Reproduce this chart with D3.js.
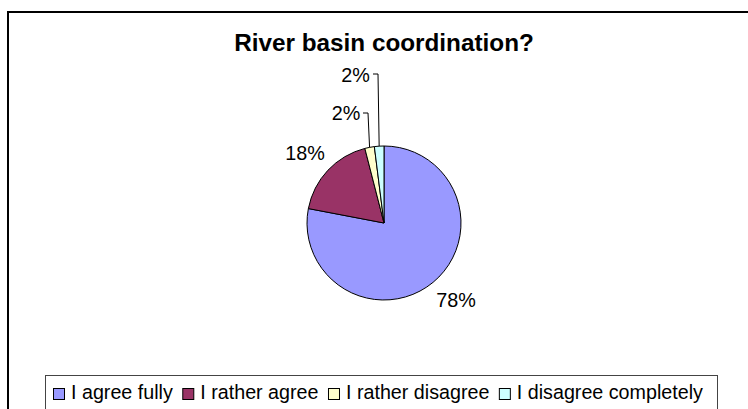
<!DOCTYPE html>
<html>
<head>
<meta charset="utf-8">
<script src="https://cdn.jsdelivr.net/npm/d3@7"></script>
<style>
  html, body { margin: 0; padding: 0; background: #fff; }
  svg { display: block; font-family: "Liberation Sans", Arial, sans-serif; }
</style>
</head>
<body>
<svg id="chart" width="748" height="409"></svg>
<script>
// Survey answers: share of respondents (%)
const categories = ["I agree fully", "I rather agree", "I rather disagree", "I disagree completely"];
const values = [78, 18, 2, 2];
const colors = ["#9999FF", "#993366", "#FFFFCC", "#CCFFFF"];
const title = "River basin coordination?";

const svg = d3.select("#chart");
const W = 748, H = 409;

// outer chart frame (runs off the right and bottom edge)
svg.append("rect")
  .attr("x", 8).attr("y", 12)
  .attr("width", W + 10).attr("height", H + 10)
  .attr("fill", "#fff").attr("stroke", "#000").attr("stroke-width", 2);

// title
svg.append("text")
  .attr("x", 384).attr("y", 51)
  .attr("text-anchor", "middle")
  .attr("font-weight", "bold")
  .attr("font-size", 24.3)
  .attr("fill", "#000")
  .text(title);

// pie
const cx = 384, cy = 223, r = 77;
const pie = d3.pie().sort(null).value(d => d)(values);
const arc = d3.arc().innerRadius(0).outerRadius(r);
const g = svg.append("g").attr("transform", `translate(${cx},${cy})`);

g.selectAll("path.slice")
  .data(pie)
  .join("path")
  .attr("class", "slice")
  .attr("d", arc)
  .attr("fill", (d, i) => colors[i])
  .attr("stroke", "#000")
  .attr("stroke-width", 1);

// percentage labels; small slices get leader lines
const fmt = v => v + "%";
const labelPos = [
  { x: 456, y: 307, anchor: "middle" },   // 78%
  { x: 305, y: 160, anchor: "middle" },   // 18%
  { x: 346, y: 120, anchor: "middle", leader: { hx: 368, hy: 113 } },
  { x: 355.5, y: 82, anchor: "middle", leader: { hx: 378, hy: 74 } }
];

pie.forEach((d, i) => {
  const p = labelPos[i];
  svg.append("text")
    .attr("x", p.x).attr("y", p.y)
    .attr("text-anchor", p.anchor)
    .attr("font-size", 19.8)
    .attr("fill", "#000")
    .text(fmt(values[i]));
  if (p.leader) {
    const mid = (d.startAngle + d.endAngle) / 2;
    const ex = cx + r * Math.sin(mid), ey = cy - r * Math.cos(mid);
    svg.append("path")
      .attr("d", `M${p.leader.hx - 5},${p.leader.hy}L${p.leader.hx},${p.leader.hy}L${ex},${ey}`)
      .attr("fill", "none")
      .attr("stroke", "#000")
      .attr("stroke-width", 1);
  }
});

// legend
const legend = svg.append("g");
legend.append("rect")
  .attr("x", 45.5).attr("y", 375.5)
  .attr("width", 672).attr("height", 50)
  .attr("fill", "#fff").attr("stroke", "#444").attr("stroke-width", 1);

let lx = 53;
categories.forEach((c, i) => {
  legend.append("rect")
    .attr("x", lx + 0.5).attr("y", 388.5)
    .attr("width", 11).attr("height", 11)
    .attr("fill", colors[i]).attr("stroke", "#000").attr("stroke-width", 1);
  const t = legend.append("text")
    .attr("x", lx + 18).attr("y", 398.5)
    .attr("font-size", 19.7)
    .attr("fill", "#000")
    .text(c);
  lx += 18 + t.node().getComputedTextLength() + 9.5;
});
</script>
</body>
</html>
